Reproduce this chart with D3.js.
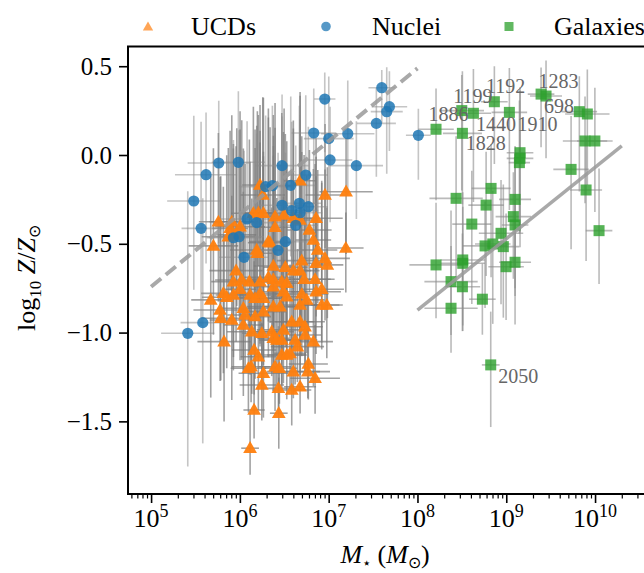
<!DOCTYPE html>
<html><head><meta charset="utf-8">
<script src="https://cdn.jsdelivr.net/npm/d3@7"></script>
<style>body{margin:0;background:#fff}svg{display:block}text{font-family:"Liberation Serif","Times New Roman",serif}</style>
</head><body><svg id="c" width="644" height="573"></svg>
<script>
// ---------- data (log10 stellar mass, log10 Z/Zsun, errors) ----------
const ucdLogMass = [6.227,6.258,6.678,6.959,7.196,6.152,6.208,6.265,6.396,6.498,
6.602,6.678,6.858,5.758,5.909,5.890,6.002,5.965,5.870,6.396,
6.783,6.828,6.321,5.702,6.190,6.197,6.340,6.877,7.193,6.959,
6.985,5.957,6.377,6.512,6.602,6.697,6.678,6.858,5.927,6.021,
6.107,6.227,6.321,6.377,6.472,6.528,6.723,6.847,5.814,5.852,
5.927,5.672,6.002,6.115,6.227,6.265,6.171,6.377,6.490,6.528,
6.697,6.753,6.678,6.858,6.922,6.922,6.979,5.777,5.785,5.909,
6.039,6.059,6.039,6.171,6.265,6.377,6.453,6.134,6.247,6.359,
6.377,6.416,6.490,6.472,6.584,6.678,6.734,6.734,6.828,5.822,
6.160,6.208,6.472,6.528,6.565,6.622,6.648,6.096,6.126,6.265,
6.247,6.396,6.445,6.602,6.771,6.765,6.847,6.434,6.584,6.678,
6.160,6.438,6.115];
const ucdZ = [-0.169,-0.225,-0.145,-0.225,-0.207,-0.328,-0.325,-0.328,-0.347,-0.338,
-0.356,-0.366,-0.356,-0.376,-0.376,-0.413,-0.404,-0.450,-0.460,-0.407,
-0.422,-0.479,-0.488,-0.512,-0.535,-0.553,-0.494,-0.535,-0.524,-0.582,
-0.619,-0.651,-0.625,-0.632,-0.651,-0.595,-0.651,-0.610,-0.713,-0.704,
-0.713,-0.713,-0.689,-0.700,-0.713,-0.722,-0.700,-0.700,-0.779,-0.801,
-0.788,-0.816,-0.756,-0.788,-0.779,-0.807,-0.807,-0.742,-0.770,-0.798,
-0.783,-0.816,-0.845,-0.770,-0.756,-0.845,-0.845,-0.873,-0.919,-0.929,
-0.863,-0.901,-0.957,-0.910,-0.882,-0.854,-0.854,-0.995,-1.004,-0.995,
-1.032,-1.042,-0.985,-1.042,-0.939,-0.939,-0.967,-1.014,-1.051,-1.051,
-1.098,-1.136,-1.126,-1.126,-1.117,-1.042,-1.079,-1.201,-1.192,-1.229,
-1.295,-1.192,-1.201,-1.220,-1.177,-1.220,-1.257,-1.314,-1.323,-1.305,
-1.436,-1.454,-1.651];
const ucdMassErr = [0.20,0.25,0.18,0.22,0.30,0.25,0.20,0.28,0.22,0.18,
0.25,0.20,0.30,0.22,0.25,0.20,0.28,0.22,0.30,0.18,
0.25,0.20,0.22,0.28,0.30,0.20,0.25,0.22,0.20,0.28,
0.18,0.30,0.22,0.25,0.20,0.28,0.22,0.18,0.25,0.30,
0.20,0.22,0.28,0.25,0.18,0.20,0.30,0.22,0.25,0.28,
0.20,0.22,0.18,0.30,0.25,0.20,0.28,0.22,0.25,0.18,
0.30,0.20,0.22,0.28,0.25,0.20,0.18,0.30,0.22,0.25,
0.28,0.20,0.22,0.18,0.25,0.30,0.20,0.28,0.22,0.25,
0.18,0.20,0.30,0.22,0.25,0.28,0.20,0.18,0.22,0.30,
0.25,0.20,0.28,0.22,0.18,0.25,0.30,0.20,0.22,0.28,
0.25,0.18,0.20,0.30,0.22,0.25,0.28,0.20,0.22,0.18,
0.12,0.10,0.10];
const ucdZErrHi = [0.45,0.55,0.50,0.40,0.30,0.60,0.55,0.65,0.50,0.60,
0.55,0.70,0.45,0.50,0.60,0.55,0.65,0.60,0.50,0.70,
0.45,0.40,0.75,0.55,0.70,0.80,0.65,0.45,0.20,0.50,
0.55,0.70,0.85,0.75,0.80,0.70,0.85,0.60,0.75,0.90,
0.80,0.85,0.90,0.75,0.95,0.80,0.70,0.65,0.60,0.80,
0.85,0.70,0.90,0.75,0.85,0.80,0.95,0.85,0.90,0.75,
0.80,0.70,0.75,0.65,0.60,0.70,0.55,0.75,0.80,0.70,
0.90,0.85,0.75,0.95,0.90,0.85,0.80,0.75,0.85,0.70,
0.65,0.80,0.75,0.70,0.85,0.65,0.60,0.70,0.55,0.60,
0.50,0.45,0.55,0.60,0.50,0.65,0.55,0.45,0.40,0.50,
0.35,0.45,0.40,0.50,0.35,0.40,0.30,0.35,0.40,0.30,
0.25,0.20,0.20];
const ucdZErrLo = [0.30,0.35,0.25,0.30,0.35,0.40,0.30,0.35,0.45,0.30,
0.40,0.35,0.30,0.45,0.40,0.35,0.50,0.40,0.35,0.30,
0.35,0.30,0.45,0.50,0.40,0.35,0.45,0.30,0.25,0.35,
0.30,0.40,0.35,0.45,0.30,0.40,0.35,0.30,0.50,0.45,
0.40,0.35,0.45,0.30,0.40,0.35,0.30,0.35,0.45,0.40,
0.35,0.55,0.40,0.45,0.30,0.35,0.40,0.45,0.35,0.30,
0.35,0.30,0.25,0.35,0.30,0.25,0.30,0.40,0.35,0.45,
0.35,0.30,0.40,0.35,0.30,0.25,0.30,0.35,0.30,0.25,
0.30,0.25,0.30,0.25,0.20,0.30,0.25,0.20,0.25,0.45,
0.25,0.30,0.20,0.25,0.20,0.25,0.20,0.25,0.20,0.25,
0.20,0.25,0.20,0.15,0.20,0.15,0.20,0.15,0.20,0.15,
0.16,0.20,0.15];

const nucLogMass = [7.598,6.956,7.684,7.654,7.537,8.010,6.832,7.215,7.001,7.016,7.312,5.762,5.983,5.619,6.475,6.742,6.573,6.290,6.366,5.481,6.475,6.670,6.771,6.584,6.678,6.081,6.190,6.629,5.563,5.927,5.991,6.513,6.430,6.047,5.582,5.413];
const nucZ = [0.379,0.315,0.272,0.244,0.178,0.111,0.124,0.120,0.092,-0.028,-0.060,-0.045,-0.041,-0.111,-0.060,-0.113,-0.171,-0.178,-0.173,-0.259,-0.283,-0.272,-0.291,-0.313,-0.325,-0.360,-0.381,-0.396,-0.413,-0.466,-0.460,-0.488,-0.537,-0.576,-0.944,-1.004];
const nucMassErr = [0.15,0.12,0.20,0.18,0.22,0.14,0.25,0.30,0.28,0.25,0.30,0.35,0.30,0.35,0.30,0.25,0.28,0.30,0.25,0.30,0.28,0.25,0.22,0.30,0.25,0.30,0.28,0.25,0.22,0.30,0.28,0.25,0.30,0.28,0.25,0.30];
const nucZErrHi = [0.10,0.15,0.20,0.25,0.20,0.15,0.25,0.30,0.35,0.30,0.25,0.35,0.40,0.35,0.40,0.45,0.50,0.40,0.45,0.48,0.50,0.55,0.45,0.50,0.55,0.55,0.50,0.45,0.60,0.55,0.60,0.50,0.55,0.60,0.70,0.80];
const nucZErrLo = [0.20,0.30,0.25,0.35,0.30,0.25,0.40,0.35,0.30,0.35,0.30,0.45,0.40,0.50,0.40,0.35,0.40,0.45,0.40,0.50,0.45,0.40,0.35,0.40,0.45,0.50,0.45,0.40,0.55,0.50,0.45,0.40,0.50,0.45,0.68,0.75];

const galLogMass = [8.209,8.499,8.630,8.506,8.866,9.035,9.392,9.448,9.823,9.913,9.887,9.998,9.155,9.155,9.148,9.730,9.899,8.829,8.435,8.773,9.099,9.080,9.099,8.612,10.045,8.941,8.761,8.848,8.967,8.209,8.510,8.510,8.998,9.099,8.378,8.506,8.378,8.731,8.825];
const galZ = [0.145,0.250,0.235,0.122,0.300,0.240,0.343,0.332,0.244,0.231,0.079,0.079,0.013,-0.019,-0.043,-0.081,-0.197,-0.188,-0.244,-0.282,-0.250,-0.347,-0.394,-0.389,-0.426,-0.441,-0.512,-0.501,-0.516,-0.619,-0.591,-0.610,-0.629,-0.604,-0.713,-0.742,-0.863,-0.812,-1.182];
const galMassErr = [0.20,0.25,0.20,0.22,0.15,0.20,0.15,0.18,0.20,0.25,0.25,0.20,0.15,0.15,0.12,0.20,0.18,0.22,0.30,0.20,0.18,0.20,0.15,0.22,0.15,0.25,0.25,0.20,0.18,0.30,0.25,0.25,0.20,0.18,0.30,0.20,0.30,0.15,0.10];
const galZErrHi = [0.23,0.20,0.25,0.35,0.20,0.25,0.15,0.20,0.20,0.25,0.25,0.30,0.35,0.40,0.35,0.30,0.30,0.25,0.35,0.30,0.30,0.25,0.40,0.30,0.35,0.30,0.25,0.30,0.35,0.35,0.30,0.40,0.30,0.35,0.40,0.30,0.35,0.20,0.30];
const galZErrLo = [0.40,0.45,0.50,0.40,0.35,0.55,0.30,0.35,0.45,0.40,0.35,0.40,0.45,0.50,0.40,0.45,0.40,0.50,0.45,0.40,0.50,0.35,0.40,0.45,0.30,0.40,0.35,0.45,0.40,0.30,0.40,0.35,0.30,0.35,0.30,0.25,0.25,0.20,0.35];

const labelText = ["1886","1199","1192","1283","698","1440","1910","1828","2050"];
const labelLogMass = [8.123,8.404,8.773,9.362,9.426,8.660,9.127,8.544,8.911];
const labelZ = [0.191,0.294,0.347,0.376,0.235,0.137,0.137,0.028,-1.285];

const dashLineMass = [1e5, 1e8];
const dashLineZ = [-0.742, 0.488];
const solidLineMass = [1e8, 2e10];
const solidLineZ = [-0.873, 0.051];

const xTickExp = [5,6,7,8,9,10];
const yTicks = [0.5, 0.0, -0.5, -1.0, -1.5];
const legendNames = ["UCDs","Nuclei","Galaxies"];

// ---------- layout ----------
const svg = d3.select("#c");
const L = 128, R = 647, T = 46.5, B = 494;
const x = d3.scaleLog().domain([Math.pow(10,4.740), Math.pow(10,10.585)]).range([L, R]);
const y = d3.scaleLinear().domain([-1.909, 0.611]).range([B, T]);

const colUCD = "#ff7f0e", colNuc = "#1f77b4", colGal = "#2ca02c";

function rows(lm, z, me, lo, hi){ return lm.map((m,i)=>({m, z:z[i], me:me[i], lo:lo[i], hi:hi[i]})); }
const ucd = rows(ucdLogMass, ucdZ, ucdMassErr, ucdZErrLo, ucdZErrHi);
const nuc = rows(nucLogMass, nucZ, nucMassErr, nucZErrLo, nucZErrHi);
const gal = rows(galLogMass, galZ, galMassErr, galZErrLo, galZErrHi);

const plot = svg.append("g");
svg.append("clipPath").attr("id","pc").append("rect").attr("x",L).attr("y",T).attr("width",R-L).attr("height",B-T);
const inner = plot.append("g").attr("clip-path","url(#pc)");

function errbars(data, color, op, w){
  const g = inner.append("g").attr("stroke", color).attr("stroke-opacity", op).attr("stroke-width", w);
  data.forEach(d=>{
    const cx = x(Math.pow(10,d.m)), cy = y(d.z);
    g.append("line").attr("x1",cx).attr("x2",cx).attr("y1",y(d.z-d.lo)).attr("y2",y(d.z+d.hi));
    g.append("line").attr("y1",cy).attr("y2",cy).attr("x1",x(Math.pow(10,d.m-d.me))).attr("x2",x(Math.pow(10,d.m+d.me)));
  });
}
errbars(ucd, "#7a7a7a", 0.7, 1.6);
errbars(nuc, "#8c8c8c", 0.5, 1.6);
errbars(gal, "#8c8c8c", 0.6, 1.6);

const tri = d3.symbol().type(d3.symbolTriangle).size(82);
inner.append("g").selectAll("path").data(ucd).join("path")
  .attr("d", tri).attr("fill", colUCD).attr("fill-opacity",0.95)
  .attr("transform", d=>`translate(${x(Math.pow(10,d.m))},${y(d.z)+0.8})`);
inner.append("g").selectAll("circle").data(nuc).join("circle")
  .attr("cx", d=>x(Math.pow(10,d.m))).attr("cy", d=>y(d.z)).attr("r",5.6)
  .attr("fill", colNuc).attr("fill-opacity",0.85);
inner.append("g").selectAll("rect").data(gal).join("rect")
  .attr("x", d=>x(Math.pow(10,d.m))-5.5).attr("y", d=>y(d.z)-5.5).attr("width",11).attr("height",11)
  .attr("fill", colGal).attr("fill-opacity",0.8);

// lines
const ln = d3.line().x(d=>x(d[0])).y(d=>y(d[1]));
inner.append("path").attr("d", ln(dashLineMass.map((m,i)=>[m,dashLineZ[i]])))
  .attr("stroke","#9a9a9a").attr("stroke-opacity",0.85).attr("stroke-width",4).attr("stroke-dasharray","13,6").attr("fill","none");
inner.append("path").attr("d", ln(solidLineMass.map((m,i)=>[m,solidLineZ[i]])))
  .attr("stroke","#9a9a9a").attr("stroke-opacity",0.85).attr("stroke-width",3.5).attr("fill","none");

// labels
inner.append("g").selectAll("text").data(labelText).join("text")
  .attr("x",(d,i)=>x(Math.pow(10,labelLogMass[i]))).attr("y",(d,i)=>y(labelZ[i]))
  .attr("font-size",20).attr("fill","#666").text(d=>d);

// axes
const xAxis = d3.axisBottom(x).tickValues(xTickExp.map(e=>Math.pow(10,e))).tickSize(9).tickFormat("");
const minors = [];
for (let e=4;e<=10;e++) for (let k=2;k<=9;k++){ const v=k*Math.pow(10,e); if (v>x.domain()[0] && v<x.domain()[1]) minors.push(v); }
const xg = svg.append("g").attr("transform",`translate(0,${B})`);
xg.call(xAxis); xg.select(".domain").remove();
xg.selectAll(".tick line").attr("stroke","#000").attr("stroke-width",1.6);
const xm = svg.append("g").attr("transform",`translate(0,${B})`).call(d3.axisBottom(x).tickValues(minors).tickSize(4.5).tickFormat(""));
xm.select(".domain").remove();
xm.selectAll(".tick line").attr("stroke","#000").attr("stroke-width",1.2);
xTickExp.forEach(e=>{
  const t = svg.append("text").attr("x", x(Math.pow(10,e))).attr("y", 527).attr("text-anchor","middle").attr("font-size",26);
  t.append("tspan").text("10");
  t.append("tspan").attr("dy",-10).attr("font-size",18).text(e);
});

const yg = svg.append("g").attr("transform",`translate(${L},0)`)
  .call(d3.axisLeft(y).tickValues(yTicks).tickSize(9).tickFormat(""));
yg.select(".domain").remove();
yg.selectAll(".tick line").attr("stroke","#000").attr("stroke-width",1.6);
yTicks.forEach(v=>{
  svg.append("text").attr("x",112).attr("y",y(v)+8.5).attr("text-anchor","end").attr("font-size",25)
    .text((v<0?"\u2212":"")+Math.abs(v).toFixed(1));
});

// spines
svg.append("line").attr("x1",L).attr("x2",L).attr("y1",T).attr("y2",B).attr("stroke","#000").attr("stroke-width",2);
svg.append("line").attr("x1",L-1).attr("x2",R).attr("y1",B).attr("y2",B).attr("stroke","#000").attr("stroke-width",2);
svg.append("line").attr("x1",L-1).attr("x2",R).attr("y1",T).attr("y2",T).attr("stroke","#000").attr("stroke-width",2);
svg.append("line").attr("x1",R).attr("x2",R).attr("y1",T).attr("y2",B).attr("stroke","#000").attr("stroke-width",2);

// axis titles
const xt = svg.append("text").attr("x",385).attr("y",563).attr("text-anchor","middle").attr("font-size",26);
xt.append("tspan").attr("font-style","italic").text("M");
xt.append("tspan").attr("font-size",15).attr("dy",5).text("\u22c6");
xt.append("tspan").attr("dy",-5).text(" (");
xt.append("tspan").attr("font-style","italic").text("M");
xt.append("tspan").attr("font-size",16).attr("dy",5).text("\u2299");
xt.append("tspan").attr("dy",-5).text(")");

const yt = svg.append("text").attr("transform","translate(35,278) rotate(-90)").attr("text-anchor","middle").attr("font-size",26);
yt.append("tspan").text("log");
yt.append("tspan").attr("font-size",17).attr("dy",6).text("10");
yt.append("tspan").attr("dy",-6).text(" ");
yt.append("tspan").attr("font-style","italic").text("Z");
yt.append("tspan").text("/");
yt.append("tspan").attr("font-style","italic").text("Z");
yt.append("tspan").attr("font-size",16).attr("dy",5).text("\u2299");

// legend
const legX = [148, 326, 509], legTX = [191, 372, 554];
const lg = svg.append("g");
lg.append("path").attr("d", d3.symbol().type(d3.symbolTriangle).size(46)()).attr("transform",`translate(${legX[0]},27.5)`).attr("fill",colUCD).attr("fill-opacity",0.7);
lg.append("circle").attr("cx",legX[1]).attr("cy",26.5).attr("r",4.8).attr("fill",colNuc).attr("fill-opacity",0.75);
lg.append("rect").attr("x",legX[2]-4.5).attr("y",22).attr("width",9).attr("height",9).attr("fill",colGal).attr("fill-opacity",0.75);
legendNames.forEach((n,i)=>{
  lg.append("text").attr("x",legTX[i]).attr("y",35).attr("font-size",26).text(n);
});
</script></body></html>
